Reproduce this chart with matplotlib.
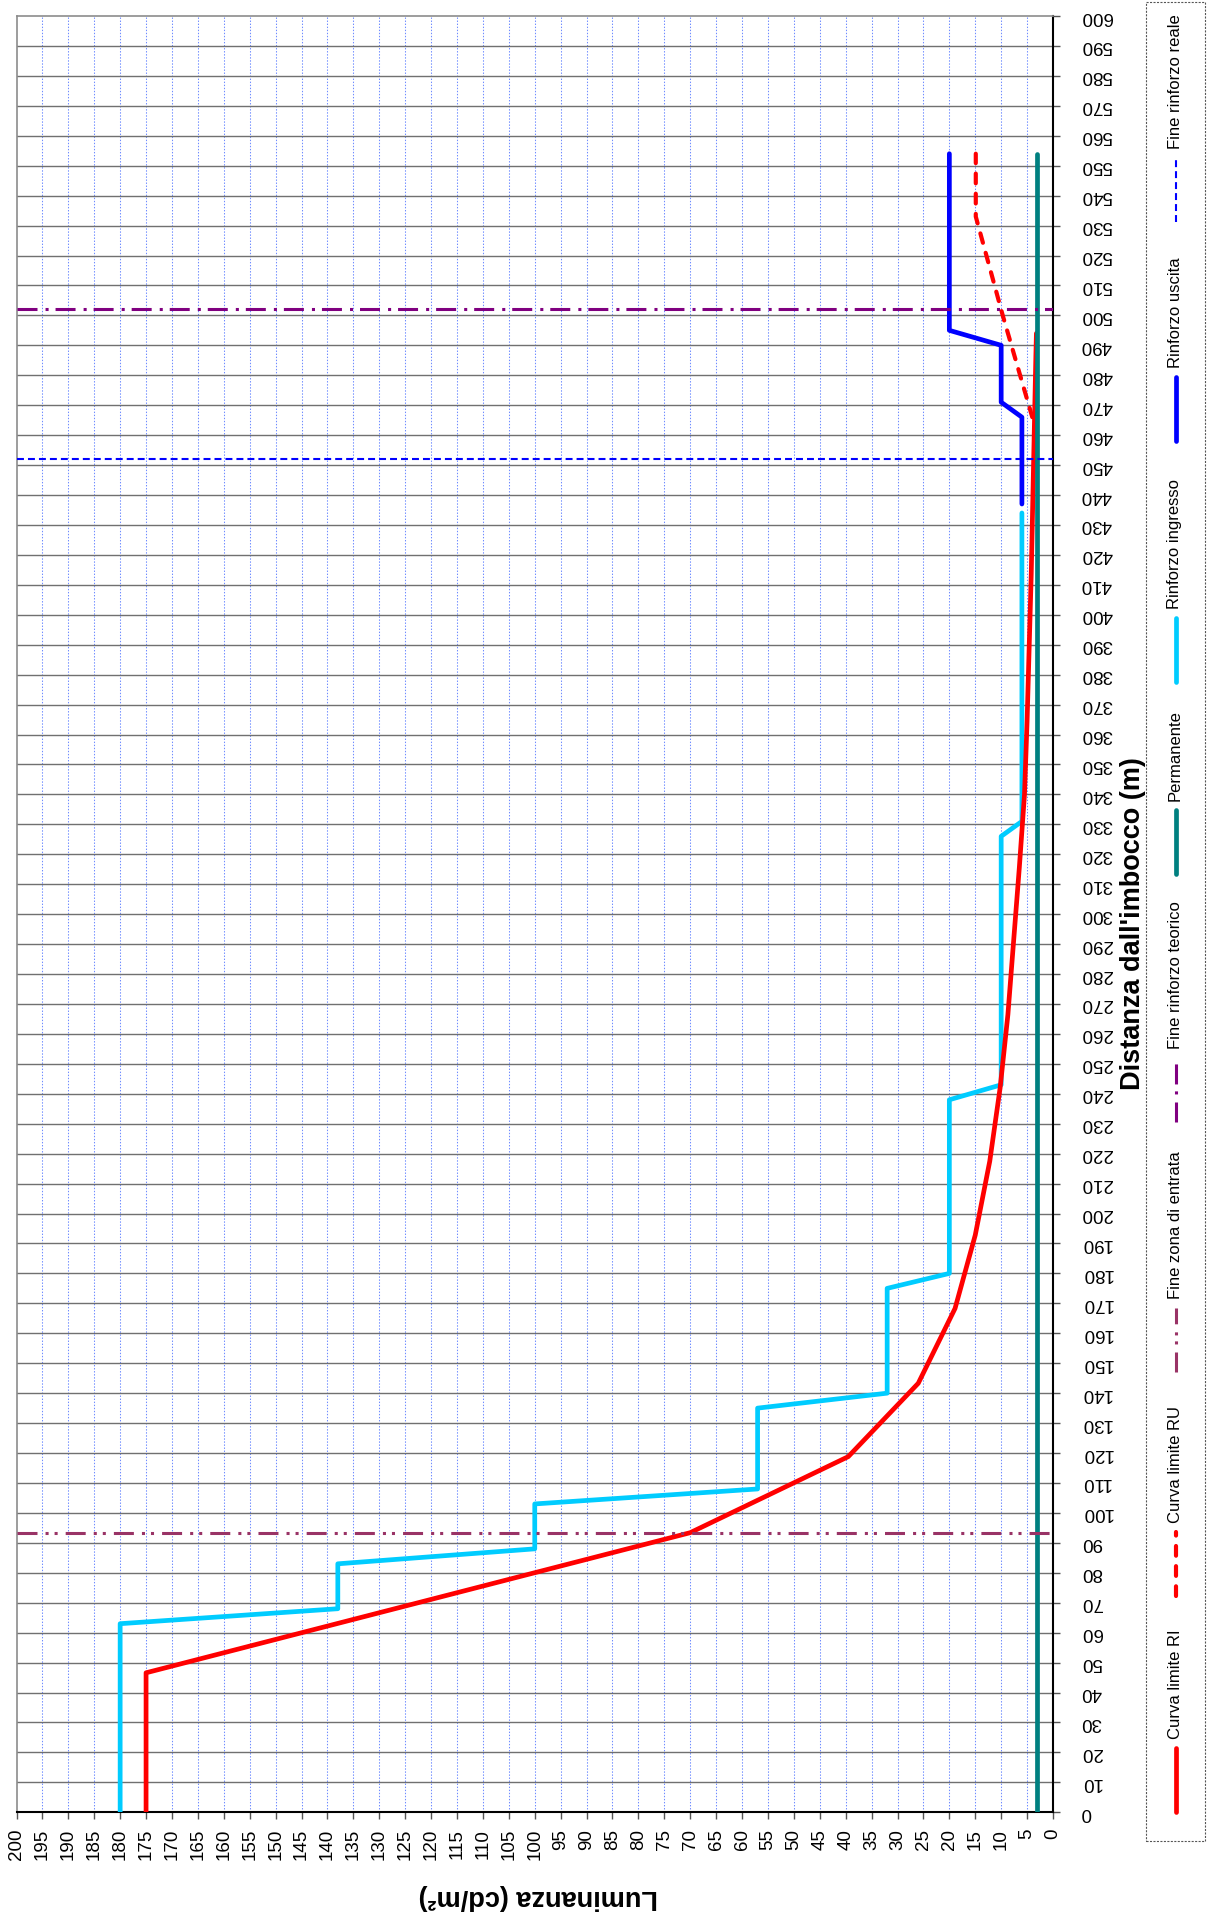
import matplotlib
matplotlib.use("Agg")
import matplotlib.pyplot as plt
from matplotlib.lines import Line2D
from matplotlib.patches import Rectangle

plt.rcParams['font.family'] = ['Liberation Sans', 'DejaVu Sans']
plt.rcParams['lines.scale_dashes'] = False

# --- data (distance in m, luminance in cd/m2) ---
dist_ri = [0, 46.6, 93.4, 118.8, 143.3, 168.3, 192.8, 217.5, 242, 266.5, 291,
           315.5, 340, 364.5, 389, 413.5, 438, 462.5, 487, 494]
lum_ri = [175, 175, 70, 39.5, 26, 18.9, 15, 12.2, 10.2, 8.7, 7.6,
          6.5, 5.5, 5.0, 4.6, 4.2, 3.9, 3.6, 3.3, 3.2]

dist_ru = [466, 500, 533, 554]
lum_ru = [4.0, 9.7, 14.9, 14.9]

dist_ing = [0, 63, 68, 83, 88, 103, 108, 135, 140, 175, 180, 238, 243, 326, 331, 434]
lum_ing = [180, 180, 138, 138, 100, 100, 57, 57, 32, 32, 20, 20, 10, 10, 6, 6]

dist_usc = [437, 466, 471, 490, 495, 554]
lum_usc = [6, 6, 10, 10, 20, 20]

dist_perm = [0, 554]
lum_perm = [3, 3]

fine_zona_entrata = 93.4
fine_rinf_teorico = 502
fine_rinf_reale = 452

lum_ticks = list(range(0, 201, 5))
dist_ticks = list(range(0, 601, 10))

legend_labels = ["Curva limite RI", "Curva limite RU", "Fine zona di entrata",
                 "Fine rinforzo teorico", "Permanente", "Rinforzo ingresso",
                 "Rinforzo uscita", "Fine rinforzo reale"]

# --- figure ---
W, H = 1207, 1921
fig = plt.figure(figsize=(W / 100, H / 100), dpi=100)

def fx(px):
    return px / W

def fy(py):
    return 1 - py / H

L, R, T, B = 16.5, 1053, 16, 1812.3
ax = fig.add_axes([fx(L), fy(B), fx(R) - fx(L), fy(T) - fy(B)])
ax.set_xlim(200, 0)
ax.set_ylim(0, 600)

# grid
for v in lum_ticks[1:-1]:
    ax.axvline(v, color='#6f8cff', lw=0.75, dashes=(1, 1.2), zorder=0)
for d in dist_ticks[1:-1]:
    ax.axhline(d, color='#707070', lw=1.0, zorder=0)

red = '#ff0000'
cyan = '#00ccff'
blue = '#0000ff'
teal = '#008080'
zona = '#993366'
teor = '#800080'

lw = 3.4
ax.plot(lum_ing, dist_ing, color=cyan, lw=lw, solid_capstyle='round', zorder=3)
ax.plot(lum_ri, dist_ri, color=red, lw=lw, solid_capstyle='round', zorder=4)
ax.plot(lum_ru, dist_ru, color=red, lw=3.0, dashes=(7, 7.5), dash_capstyle='round', zorder=4)
ax.plot(lum_usc, dist_usc, color=blue, lw=lw, solid_capstyle='round', zorder=4)
ax.plot(lum_perm, dist_perm, color=teal, lw=lw, solid_capstyle='round', zorder=5)

ax.axhline(fine_zona_entrata, color=zona, lw=2.2, dashes=(14.4, 5.8, 2.2, 4.3, 2.2, 5.8), zorder=6)
ax.axhline(fine_rinf_teorico, color=teor, lw=2.2, dashes=(14.4, 5.8, 2.2, 5.0), zorder=6)
ax.axhline(fine_rinf_reale, color=blue, lw=1.5, dashes=(5, 2.9), zorder=6)

# spines / ticks
for s in ('left', 'top'):
    ax.spines[s].set_color('#8c8c8c')
    ax.spines[s].set_linewidth(1.2)
for s in ('right', 'bottom'):
    ax.spines[s].set_color('black')
    ax.spines[s].set_linewidth(1.5)

ax.yaxis.tick_right()
ax.set_xticks(lum_ticks)
ax.set_xticklabels([str(v) for v in lum_ticks], rotation=90)
ax.set_yticks(dist_ticks)
ax.set_yticklabels([str(v) for v in dist_ticks], rotation=180)
for lab in ax.get_yticklabels():
    lab.set_ha('left')
    lab.set_va('center')
ax.tick_params(axis='x', length=5, width=1, color='#555555', pad=7, labelsize=13.5)
ax.tick_params(axis='y', length=5, width=1, color='#555555', pad=15, labelsize=13.5)

# axis titles
fig.text(fx(1133), fy(924), "Distanza dall'imbocco (m)", rotation=90,
         ha='center', va='center', fontsize=19.5, fontweight='bold')
fig.text(fx(538), fy(1897), "Luminanza (cd/m²)", rotation=180,
         ha='center', va='center', fontsize=19.5, fontweight='bold')

# legend box
fig.patches.append(Rectangle((fx(1146), fy(1841)), fx(1205) - fx(1146), fy(2) - fy(1841),
                             transform=fig.transFigure, fill=False, ec='#555555',
                             lw=0.8, ls=(0, (1.5, 1))))

leg_styles = [
    dict(color=red, lw=lw, solid_capstyle='round'),
    dict(color=red, lw=3.0, dashes=(7, 7.5), dash_capstyle='round'),
    dict(color=zona, lw=2.2, dashes=(14.4, 5.8, 2.2, 4.3, 2.2, 5.8)),
    dict(color=teor, lw=2.2, dashes=(14.4, 5.8, 2.2, 5.0)),
    dict(color=teal, lw=lw, solid_capstyle='round'),
    dict(color=cyan, lw=lw, solid_capstyle='round'),
    dict(color=blue, lw=lw, solid_capstyle='round'),
    dict(color=blue, lw=1.5, dashes=(5, 2.9)),
]
leg_line_bottom = [1812, 1596, 1372, 1122, 874, 682, 441, 222]
lx = 1176
for lab, st, yb in zip(legend_labels, leg_styles, leg_line_bottom):
    fig.lines.append(Line2D([fx(lx), fx(lx)], [fy(yb), fy(yb - 64)],
                            transform=fig.transFigure, **st))
    fig.text(fx(lx - 1), fy(yb - 73), lab, rotation=90, ha='center', va='bottom',
             fontsize=12)

fig.savefig("out.png", dpi=100)
